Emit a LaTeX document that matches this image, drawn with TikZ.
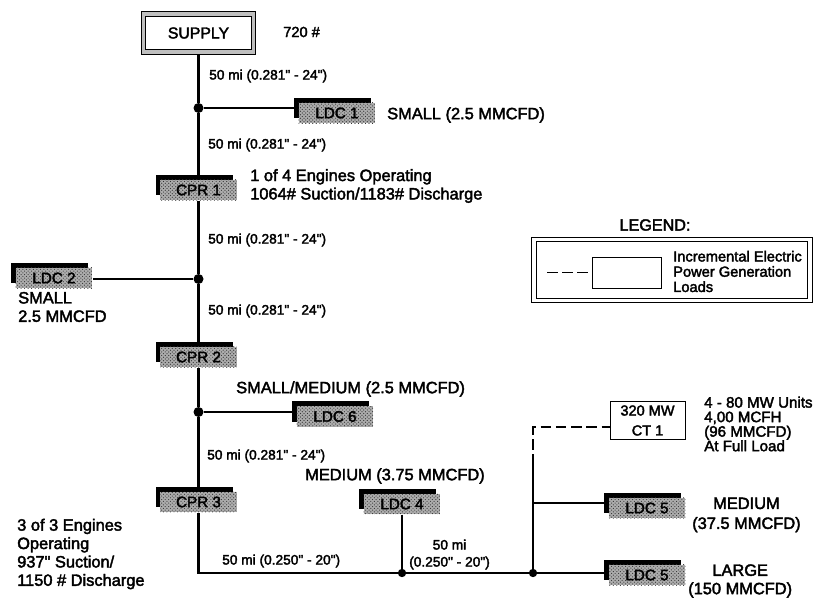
\documentclass[tikz,border=0pt]{standalone}
\usepackage{fontspec}
\setmainfont{Liberation Sans}
\newfontfamily\scanfont{Liberation Sans}[FakeBold=2.4]
\usetikzlibrary{positioning, backgrounds, shadows, patterns}

\tikzset{
    unitbox/.style={minimum width=2.3cm, minimum height=0.62cm, inner sep=0pt,
        general shadow={fill=black, shadow xshift=-0.13cm, shadow yshift=0.15cm},
        preaction={fill=gray!65}, pattern=crosshatch dots, pattern color=black!80},
    unitname/.style={font=\scanfont\fontsize{13}{13}\selectfont, text=black},
    pipe/.style={anchor=west, inner sep=0pt, font=\scanfont\fontsize{11.7}{14.5}\selectfont},
    note/.style={anchor=west, inner sep=0pt, align=left, font=\scanfont\fontsize{14}{15.7}\selectfont},
    smallnote/.style={anchor=west, inner sep=0pt, align=left, font=\scanfont\fontsize{12.9}{12.4}\selectfont},
    joint/.style={circle, fill=black, inner sep=0pt, minimum size=0.3cm},
    line/.style={line width=1.9pt}
}

\begin{document}
\begin{tikzpicture}[x=0.03cm, y=-0.03cm]
    \useasboundingbox (0,0) rectangle (813,598);

    % Supply
    \node[draw, double=gray!50, double distance=3pt, line width=0.8pt, fill=white, minimum width=3.3cm, minimum height=1.15cm, font=\scanfont\fontsize{13.5}{13.5}\selectfont] (supply) at (198.5, 33) {SUPPLY};
    \node[note, font=\scanfont\fontsize{12.5}{12.5}\selectfont] (supply_p) at (283, 32) {720 \#};

    % Trunk units
    \node[unitbox] (ldc1) at (337, 113) {};
    \node[unitname] (ldc1_t) at (ldc1) {LDC 1};
    \node[note] (ldc1_n) at (387, 115) {SMALL (2.5 MMCFD)};

    \node[unitbox] (cpr1) at (198.5, 190) {};
    \node[unitname] (cpr1_t) at (cpr1) {CPR 1};
    \node[note] (cpr1_n) at (250, 186) {1 of 4 Engines Operating\\1064\# Suction/1183\# Discharge};

    \node[unitbox] (ldc2) at (54, 278) {};
    \node[unitname] (ldc2_t) at (ldc2) {LDC 2};
    \node[note] (ldc2_n) at (18, 307) {SMALL\\2.5 MMCFD};

    \node[unitbox] (cpr2) at (198.5, 357) {};
    \node[unitname] (cpr2_t) at (cpr2) {CPR 2};

    \node[unitbox] (ldc6) at (335, 416.5) {};
    \node[unitname] (ldc6_t) at (ldc6) {LDC 6};
    \node[note] (ldc6_n) at (236, 389) {SMALL/MEDIUM (2.5 MMCFD)};

    \node[unitbox] (cpr3) at (198.5, 502) {};
    \node[unitname] (cpr3_t) at (cpr3) {CPR 3};
    \node[note] (cpr3_n) at (17, 554) {3 of 3 Engines\\Operating\\937" Suction/\\1150 \# Discharge};

    \node[unitbox] (ldc4) at (402, 504) {};
    \node[unitname] (ldc4_t) at (ldc4) {LDC 4};
    \node[note] (ldc4_n) at (305, 476) {MEDIUM (3.75 MMCFD)};

    \node[unitbox] (ldc5m) at (647, 508) {};
    \node[unitname] (ldc5m_t) at (ldc5m) {LDC 5};
    \node[note, align=center, font=\scanfont\fontsize{14}{17}\selectfont] (ldc5m_n) at (692, 515) {MEDIUM\\(37.5 MMCFD)};

    \node[unitbox] (ldc5l) at (647, 575) {};
    \node[unitname] (ldc5l_t) at (ldc5l) {LDC 5};
    \node[note, align=center] (ldc5l_n) at (688, 581) {LARGE\\(150 MMCFD)};

    % Electric load
    \node[draw, thick, fill=white, minimum width=2.25cm, minimum height=1.12cm, inner sep=0pt, align=center, font=\scanfont\fontsize{12.4}{17}\selectfont] (ct1) at (647.5, 420.5) {320 MW\\CT 1};
    \node[smallnote] (ct1_n) at (704, 424) {4 - 80 MW Units\\4,00 MCFH\\(96 MMCFD)\\At Full Load};

    % Pipe labels
    \node[pipe] (p1) at (209, 76) {50 mi (0.281" - 24")};
    \node[pipe] (p2) at (208, 145) {50 mi (0.281" - 24")};
    \node[pipe] (p3) at (208, 240) {50 mi (0.281" - 24")};
    \node[pipe] (p4) at (208, 311) {50 mi (0.281" - 24")};
    \node[pipe] (p5) at (207, 456) {50 mi (0.281" - 24")};
    \node[pipe] (p6) at (222, 561) {50 mi (0.250" - 20")};
    \node[pipe, align=center] (p7) at (409, 554.5) {50 mi\\(0.250" - 20")};

    % Joints
    \node[joint] (jct1) at (198.5, 108) {};
    \node[joint] (jct2) at (198.5, 279) {};
    \node[joint] (jct3) at (198.5, 412) {};
    \node[joint, minimum size=0.25cm] (jct4) at (402, 573) {};
    \node[joint, minimum size=0.25cm] (jct5) at (533, 573) {};
    \coordinate (bend) at (198.5, 573);
    \coordinate (jct6) at (533, 503);
    \coordinate (brk) at (533, 465);
    \coordinate (corner) at (533, 427);
    \coordinate (ct1_in) at (610, 427);

    % Legend
    \node[inner sep=0pt, font=\scanfont\fontsize{13.8}{13.8}\selectfont] (leg_t) at (655, 225) {LEGEND:};
    \node[draw, double=white, double distance=3pt, line width=0.8pt, minimum width=8.27cm, minimum height=1.83cm] (leg) at (672, 270) {};
    \node[draw, thick, minimum width=2.07cm, minimum height=0.93cm] (leg_box) at (626.5, 272.5) {};
    \coordinate (leg_end) at (547, 272.5);
    \node[anchor=west, inner sep=0pt, align=left, font=\scanfont\fontsize{12.5}{13}\selectfont] (leg_n) at (673, 271.5) {Incremental Electric\\Power Generation\\Loads};

    % Connections
    \begin{scope}[on background layer]
        \draw[line] (supply) -- (jct1);
        \draw[line] (jct1) -- (cpr1);
        \draw[line] (cpr1) -- (jct2);
        \draw[line] (jct2) -- (cpr2);
        \draw[line] (cpr2) -- (jct3);
        \draw[line] (jct3) -- (cpr3);
        \draw[line] (cpr3) -- (bend) -- (jct4);
        \draw[line] (jct4) -- (jct5);
        \draw[line] (jct5) -- (jct5 -| ldc5l.west);
        \draw[line] (jct1) -- (jct1 -| ldc1.west);
        \draw[line] (jct2) -- (jct2 -| ldc2.east);
        \draw[line] (jct3) -- (jct3 -| ldc6.west);
        \draw[line] (ldc4) -- (jct4);
        \draw[line] (jct5) -- (brk);
        \draw[line] (jct6) -- (jct6 -| ldc5m.west);
        \draw[line, dash pattern=on 9pt off 4pt] (brk) -- (corner) -- (ct1_in);
        \draw[line width=1.6pt, dash pattern=on 9pt off 4pt] (leg_end) -- (leg_box);
    \end{scope}
\end{tikzpicture}
\end{document}
